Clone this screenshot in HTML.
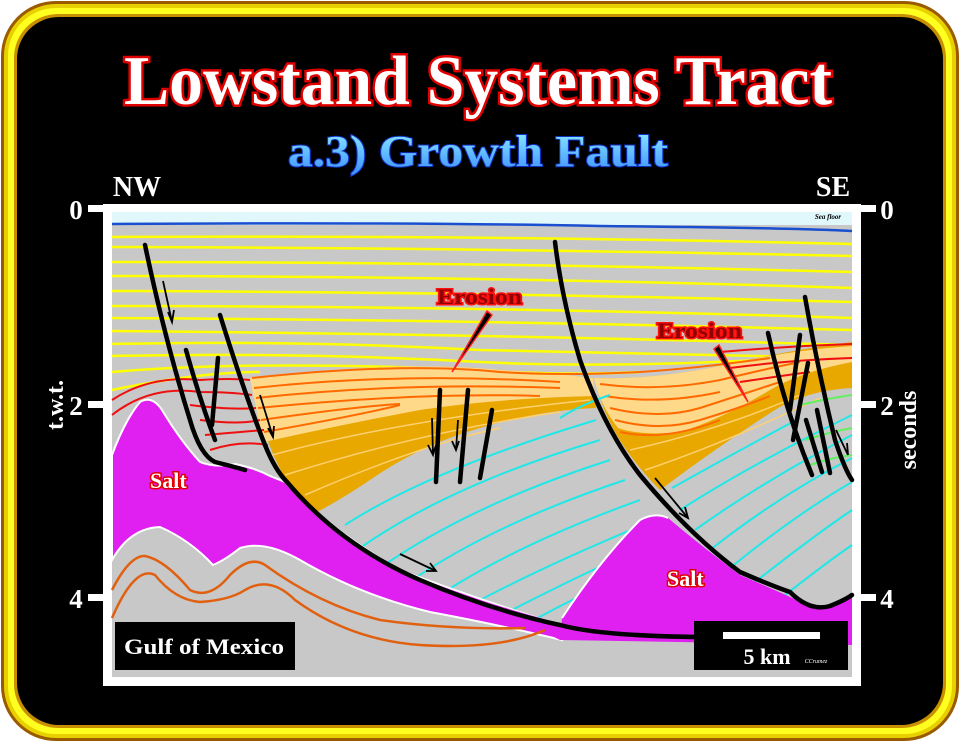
<!DOCTYPE html>
<html><head><meta charset="utf-8"><style>
html,body{margin:0;padding:0;background:#fff;}
body{width:960px;height:742px;overflow:hidden;}
</style></head><body>
<svg width="960" height="742" viewBox="0 0 960 742" xmlns="http://www.w3.org/2000/svg" font-family="Liberation Serif, serif">
<defs>
<linearGradient id="bl" x1="0" y1="0" x2="0" y2="1">
<stop offset="0" stop-color="#90f0ff"/><stop offset="1" stop-color="#3a8cff"/>
</linearGradient>
</defs>
<rect x="0" y="0" width="960" height="742" fill="#fff"/>
<rect x="1" y="1" width="958" height="740" rx="55" fill="#9a5a00"/>
<rect x="4" y="4" width="952" height="734" rx="52" fill="#e8d000"/>
<rect x="8" y="8" width="944" height="726" rx="48" fill="#ffff20"/>
<rect x="14" y="14" width="932" height="714" rx="44" fill="#c89000"/>
<rect x="17" y="17" width="926" height="708" rx="42" fill="#000"/>

<text x="478" y="104" text-anchor="middle" font-size="70" font-weight="bold" fill="#fff" stroke="#e00000" stroke-width="5" paint-order="stroke" textLength="708" lengthAdjust="spacingAndGlyphs">Lowstand Systems Tract</text>
<text x="478" y="166" text-anchor="middle" font-size="44" font-weight="bold" fill="url(#bl)" stroke="#1030c0" stroke-width="2" paint-order="stroke" textLength="380" lengthAdjust="spacingAndGlyphs">a.3) Growth Fault</text>
<text x="137" y="196" text-anchor="middle" font-size="28" font-weight="bold" fill="#fff">NW</text>
<text x="833" y="196" text-anchor="middle" font-size="28" font-weight="bold" fill="#fff">SE</text>

<rect x="88" y="205" width="16" height="7" fill="#fff"/>
<rect x="88" y="401" width="16" height="7" fill="#fff"/>
<rect x="88" y="594" width="16" height="7" fill="#fff"/>
<rect x="860" y="205" width="16" height="7" fill="#fff"/>
<rect x="860" y="401" width="16" height="7" fill="#fff"/>
<rect x="860" y="594" width="16" height="7" fill="#fff"/>
<g font-size="27" font-weight="bold" fill="#fff" text-anchor="middle">
<text x="76" y="219">0</text><text x="76" y="415">2</text><text x="76" y="608">4</text>
<text x="887" y="219">0</text><text x="887" y="415">2</text><text x="887" y="608">4</text>
</g>
<text transform="translate(63,405) rotate(-90)" text-anchor="middle" font-size="24" font-weight="bold" fill="#fff">t.w.t.</text>
<text transform="translate(916,430) rotate(-90)" text-anchor="middle" font-size="24" font-weight="bold" fill="#fff">seconds</text>

<rect x="103" y="204" width="758" height="482" fill="#fff"/>
<rect x="112" y="212" width="740" height="465" fill="#c8c8c8"/>
<rect x="112" y="212" width="740" height="13" fill="#e0f8fc"/>
<path d="M112,224 Q400,222 600,226 Q800,228 852,231" stroke="#1a4fd0" stroke-width="2.5" fill="none"/>
<text x="828" y="219" font-size="7" font-style="italic" font-weight="bold" text-anchor="middle">Sea floor</text>

<g stroke="#ffff00" stroke-width="2.5" fill="none">
<path d="M112,237 Q480,235 852,244"/>
<path d="M112,247 Q480,248 852,256"/>
<path d="M112,262 Q480,262 852,272"/>
<path d="M112,276 Q480,276 852,288"/>
<path d="M112,291 Q480,292 852,302"/>
<path d="M112,306 Q480,306 852,318"/>
<path d="M112,318 Q480,320 852,330"/>
<path d="M112,331 Q480,334 852,345"/>
<path d="M112,344 Q300,340 480,350 Q700,355 852,358"/>
<path d="M112,356 Q300,352 480,362 Q600,368 760,360"/>
<path d="M112,372 Q250,360 480,370 Q560,376 640,372"/>
<path d="M112,390 Q200,372 260,372"/>
</g>

<path d="M250,378 Q400,360 500,370 Q560,374 593,378 L596,408 Q540,410 480,428 Q420,445 370,480 Q340,500 317,512 L287,482 Q265,445 250,378 Z" fill="#e8a800"/>
<path d="M250,378 Q400,360 500,370 Q560,374 593,378 L595,396 Q500,398 420,410 Q340,425 264,442 Q256,410 250,378 Z" fill="#ffd98a"/>
<path d="M594,378 Q650,380 720,366 Q790,350 852,342 L852,388 Q810,390 778,408 Q720,445 660,490 Q640,470 625,448 Q605,420 594,378 Z" fill="#e8a800"/>
<path d="M594,378 Q650,380 720,366 Q790,350 852,346 L852,362 Q800,372 770,390 Q720,420 680,432 Q640,436 618,428 Q600,405 594,378 Z" fill="#ffd98a"/>

<g stroke="#ff6a00" stroke-width="2" fill="none">
<path d="M252,378 Q400,362 500,372 Q560,376 640,372 Q700,368 770,358"/>
<path d="M254,388 Q400,372 560,382"/>
<path d="M256,398 Q400,382 560,388"/>
<path d="M258,408 Q420,392 540,396"/>
<path d="M261,420 Q360,406 400,404"/>
<path d="M264,432 Q360,415 400,405"/>
<path d="M600,384 Q660,392 720,380 Q770,368 800,362"/>
<path d="M605,396 Q660,405 720,392"/>
<path d="M610,408 Q660,420 700,408 Q740,395 780,382"/>
<path d="M615,420 Q660,432 700,420 Q740,408 770,396"/>
<path d="M620,432 Q665,442 720,420"/>
</g>
<g stroke="#ffd070" stroke-width="1.5" fill="none">
<path d="M272,455 Q400,420 590,400"/>
<path d="M285,475 Q420,432 560,412"/>
<path d="M305,495 Q420,445 500,428"/>
<path d="M630,450 Q720,430 800,395"/>
<path d="M645,470 Q720,445 820,398"/>
</g>
<g stroke="#ee1010" stroke-width="2" fill="none">
<path d="M112,400 Q150,375 200,380 Q230,378 250,380"/>
<path d="M112,415 Q150,385 200,392 Q230,392 252,395"/>
<path d="M190,405 Q230,410 256,408"/>
<path d="M200,420 Q240,425 260,420"/>
<path d="M205,435 Q240,432 264,430"/>
<path d="M210,450 Q240,440 268,445"/>
<path d="M720,352 Q790,346 852,344"/>
<path d="M730,368 Q790,360 852,358"/>
<path d="M740,382 Q780,376 810,372"/>
</g>
<g stroke="#20e8e8" stroke-width="2" fill="none">
<path d="M345,525 Q430,470 596,420"/>
<path d="M360,548 Q450,485 600,440"/>
<path d="M380,568 Q470,505 610,460"/>
<path d="M405,585 Q490,525 625,480"/>
<path d="M435,598 Q515,545 640,500"/>
<path d="M465,608 Q545,565 655,520"/>
<path d="M500,616 Q570,580 640,548"/>
<path d="M530,622 Q580,595 630,572"/>
<path d="M560,418 Q580,405 610,395"/>
<path d="M680,510 Q750,465 852,415"/>
<path d="M695,530 Q765,480 852,435"/>
<path d="M710,550 Q780,495 852,458"/>
<path d="M730,568 Q795,515 852,482"/>
<path d="M755,582 Q815,535 852,510"/>
<path d="M785,595 Q830,560 852,545"/>
<path d="M672,488 Q740,450 800,418"/>
</g>
<g stroke="#60f060" stroke-width="2" fill="none">
<path d="M800,405 Q830,398 852,395"/><path d="M805,440 Q830,432 852,428"/><path d="M810,465 Q830,458 852,455"/>
</g>

<path d="M112,455 Q125,420 140,402 Q152,395 162,410 Q180,440 200,462 Q215,468 235,464 Q255,468 270,476 L285,482 Q330,530 400,570 Q480,600 560,625 L562,640 Q500,625 430,612 Q360,595 300,560 Q265,540 240,548 Q225,560 213,565 Q190,540 160,527 Q130,528 112,560 Z" fill="#e020f0" stroke="#fff" stroke-width="2"/>
<path d="M562,618 Q600,560 640,520 Q655,512 668,518 Q700,545 740,575 Q780,592 812,607 Q835,606 852,595 L852,640 L560,640 Z" fill="#e020f0"/>
<path d="M562,618 Q600,560 640,520 Q655,512 668,518" stroke="#fff" stroke-width="2" fill="none"/>
<path d="M480,600 Q560,625 600,632 L852,640 L852,645 L560,640 Z" fill="#e020f0"/>
<g stroke="#e06010" stroke-width="2.5" fill="none">
<path d="M112,590 Q130,555 145,556 Q165,560 190,590 Q210,600 230,575 Q250,555 265,565 Q320,605 380,620 Q450,630 525,628"/>
<path d="M112,618 Q135,565 155,575 Q175,600 200,602 Q230,600 245,590 Q270,575 295,600 Q350,640 420,645 Q500,650 545,630"/>
</g>

<g stroke="#000" stroke-width="4.5" fill="none" stroke-linecap="round">
<path d="M145,245 Q165,340 190,420 Q200,455 215,462 Q235,467 245,470"/>
<path d="M220,315 Q245,395 265,445 Q275,470 287,482 Q340,545 420,580 Q490,610 560,625 Q600,636 700,637"/>
<path d="M555,242 Q562,300 580,360 Q605,430 640,475 Q690,535 740,572 Q770,585 790,592 Q810,612 830,606 Q845,600 852,595"/>
<path d="M186,350 Q200,400 215,440"/>
<path d="M218,358 L212,425"/>
<path d="M440,390 L436,482"/>
<path d="M468,390 L460,482"/>
<path d="M492,410 L480,478"/>
<path d="M768,333 Q785,410 812,475"/>
<path d="M805,297 Q818,370 835,440 Q845,470 852,480"/>
<path d="M800,335 L790,410"/>
<path d="M808,363 L793,440"/>
<path d="M817,410 L830,473"/>
<path d="M806,420 L822,472"/>
</g>
<g stroke="#000" stroke-width="1.8" fill="none">
<path d="M163,281 L172,322 M168,312 L172,322 L174,310"/>
<path d="M260,395 L273,437 M268,428 L273,437 L274,426"/>
<path d="M432,418 L433,455 M428,445 L433,455 L436,445"/>
<path d="M458,420 L456,450 M452,441 L456,450 L459,441"/>
<path d="M655,478 L688,518 M685,507 L688,518 L679,513"/>
<path d="M400,554 L436,571 M430,563 L436,571 L426,571"/>
<path d="M836,430 L848,455 M847,443 L848,455"/>
</g>

<g font-size="22" font-weight="bold" fill="#900000" stroke="#ff1010" stroke-width="3" paint-order="stroke">
<text x="437" y="304" textLength="85" lengthAdjust="spacingAndGlyphs">Erosion</text>
<text x="657" y="338" textLength="85" lengthAdjust="spacingAndGlyphs">Erosion</text>
</g>
<path d="M487,311 L492,315 L452,372 Z" fill="#000" stroke="#ff2020" stroke-width="1.5"/>
<path d="M714,349 L719,345 L748,402 Z" fill="#000" stroke="#ff2020" stroke-width="1.5"/>

<g font-size="22" font-weight="bold" fill="#fff" stroke="#e00000" stroke-width="3" paint-order="stroke">
<text x="150" y="488">Salt</text>
<text x="667" y="586">Salt</text>
</g>

<rect x="115" y="622" width="180" height="48" fill="#000"/>
<text x="204" y="654" text-anchor="middle" font-size="22" font-weight="bold" fill="#fff" textLength="160" lengthAdjust="spacingAndGlyphs">Gulf of Mexico</text>
<rect x="694" y="621" width="154" height="49" fill="#000"/>
<rect x="723" y="632" width="97" height="7" fill="#fff"/>
<text x="767" y="664" text-anchor="middle" font-size="22" font-weight="bold" fill="#fff">5 km</text>
<text x="816" y="663" text-anchor="middle" font-size="6" font-style="italic" fill="#fff">CCrumez</text>
</svg>
</body></html>
